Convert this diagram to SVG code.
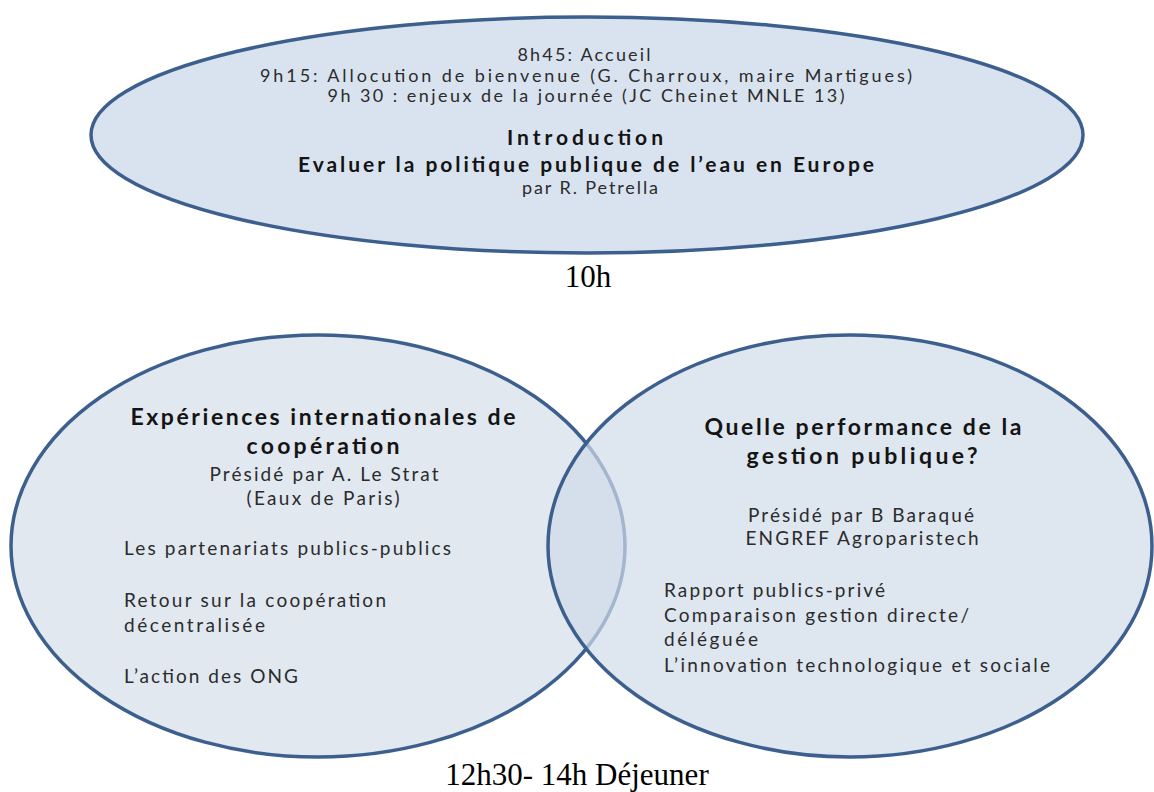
<svg xmlns="http://www.w3.org/2000/svg" width="1154" height="792" viewBox="0 0 1154 792">
<style>
.shape{stroke:#3c5f8d;stroke-width:3.5}
.t{font-family:Lato,"Open Sans","Liberation Sans",sans-serif;fill:#2b2b2b;font-size:19px}
.tt{font-family:Lato,"Open Sans","Liberation Sans",sans-serif;fill:#2b2b2b;font-size:18px}
.b{font-family:Lato,"Open Sans","Liberation Sans",sans-serif;fill:#141414;font-weight:bold;font-size:23px}
.bt{font-family:Lato,"Open Sans","Liberation Sans",sans-serif;fill:#141414;font-weight:bold;font-size:21px}
.s{font-family:"Liberation Serif","Times New Roman",serif;fill:#000;font-size:31px}
.c{text-anchor:middle}
</style>
<rect width="1154" height="792" fill="#fff"/>
<g id="connectors"></g>
<g id="node-intro">
<ellipse class="shape" cx="587" cy="135" rx="496" ry="118" fill="#d9e3ef"/>
<text class="tt c" x="584" y="61" textLength="133" lengthAdjust="spacing">8h45: Accueil</text>
<text class="tt c" x="586" y="82" textLength="652" lengthAdjust="spacing">9h15: Allocution de bienvenue (G. Charroux, maire Martigues)</text>
<text class="tt c" x="586" y="102" textLength="517" lengthAdjust="spacing">9h 30 : enjeux de la journée (JC Cheinet MNLE 13)</text>
<text class="bt c" x="585" y="145" textLength="156" lengthAdjust="spacing">Introduction</text>
<text class="bt c" x="586" y="172" textLength="576" lengthAdjust="spacing">Evaluer la politique publique de l’eau en Europe</text>
<text class="tt c" x="590" y="194" textLength="136" lengthAdjust="spacing">par R. Petrella</text>
</g>
<g id="label-10h">
<text class="s c" x="588" y="287">10h</text>
</g>
<g id="node-left">
<ellipse class="shape" cx="318" cy="546" rx="307" ry="211" fill="#e1e8f0"/>
<text class="b c" x="323" y="425" textLength="385" lengthAdjust="spacing">Expériences internationales de</text>
<text class="b c" x="323" y="454" textLength="153" lengthAdjust="spacing">coopération</text>
<text class="t c" x="324" y="481" textLength="229" lengthAdjust="spacing">Présidé par A. Le Strat</text>
<text class="t c" x="323" y="505" textLength="153" lengthAdjust="spacing">(Eaux de Paris)</text>
<text class="t" x="124" y="555" textLength="327" lengthAdjust="spacing">Les partenariats publics-publics</text>
<text class="t" x="124" y="607" textLength="262" lengthAdjust="spacing">Retour sur la coopération</text>
<text class="t" x="124" y="632" textLength="141" lengthAdjust="spacing">décentralisée</text>
<text class="t" x="124" y="683" textLength="174" lengthAdjust="spacing">L’action des ONG</text>
</g>
<g id="node-right">
<ellipse cx="850" cy="546" rx="302" ry="211" fill="#d0dbea" fill-opacity="0.7"/>
<ellipse class="shape" cx="850" cy="546" rx="302" ry="211" fill="none"/>
<text class="b c" x="863" y="435" textLength="317" lengthAdjust="spacing">Quelle performance de la</text>
<text class="b c" x="862" y="464" textLength="231" lengthAdjust="spacing">gestion  publique?</text>
<text class="t c" x="861" y="522" textLength="226" lengthAdjust="spacing">Présidé par B Baraqué</text>
<text class="t c" x="862" y="545" textLength="233" lengthAdjust="spacing">ENGREF Agroparistech</text>
<text class="t" x="664" y="597" textLength="221" lengthAdjust="spacing">Rapport publics-privé</text>
<text class="t" x="664" y="622" textLength="305" lengthAdjust="spacing">Comparaison gestion directe/</text>
<text class="t" x="664" y="646" textLength="94" lengthAdjust="spacing">déléguée</text>
<text class="t" x="664" y="672" textLength="386" lengthAdjust="spacing">L’innovation technologique  et sociale</text>
</g>
<g id="label-lunch">
<text class="s c" x="577" y="785">12h30- 14h Déjeuner</text>
</g>
</svg>
